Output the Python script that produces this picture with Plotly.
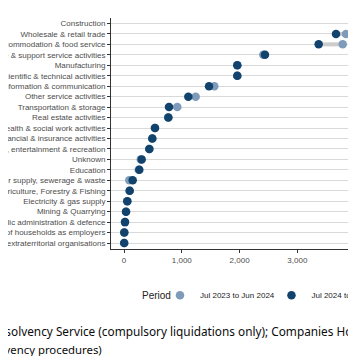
import plotly.graph_objects as go

categories = [
    "Construction",
    "Wholesale & retail trade",
    "Accommodation & food service",
    "Administrative & support service activities",
    "Manufacturing",
    "Professional, scientific & technical activities",
    "Information & communication",
    "Other service activities",
    "Transportation & storage",
    "Real estate activities",
    "Human health & social work activities",
    "Financial & insurance activities",
    "Arts, entertainment & recreation",
    "Unknown",
    "Education",
    "Water supply, sewerage & waste",
    "Agriculture, Forestry & Fishing",
    "Electricity & gas supply",
    "Mining & Quarrying",
    "Public administration & defence",
    "Activities of households as employers",
    "Activities of extraterritorial organisations",
]
period_prev = "Jul 2023 to Jun 2024"
period_curr = "Jul 2024 to Jun 2025"
values_prev = [4100, 3841, 3784, 2410, 1960, 1960, 1563, 1240, 922, 767, 536, 490,
               438, 290, 255, 92, 98, 57, 35, 17, 5, 3]
values_curr = [3984, 3668, 3368, 2439, 1960, 1960, 1471, 1113, 779, 767, 536, 490,
               438, 306, 265, 150, 98, 57, 35, 17, 5, 3]
x_ticks = [0, 1000, 2000, 3000, 4000]

seg_x, seg_y = [], []
for c, a, b in zip(categories, values_prev, values_curr):
    seg_x += [a, b, None]
    seg_y += [c, c, None]

fig = go.Figure()
fig.add_trace(go.Scatter(x=seg_x, y=seg_y, mode="lines",
                         line=dict(color="#cccccc", width=4),
                         showlegend=False, hoverinfo="skip"))
fig.add_trace(go.Scatter(x=values_prev, y=categories, mode="markers",
                         name=period_prev, legend="legend",
                         marker=dict(color="#7f9bba", size=8.5)))
fig.add_trace(go.Scatter(x=values_curr, y=categories, mode="markers",
                         name=period_curr, legend="legend2",
                         marker=dict(color="#12436d", size=8.5)))

legend_style = dict(orientation="h", xanchor="left", y=-0.2, yanchor="middle",
                    font=dict(size=8, color="#222222"),
                    bgcolor="rgba(0,0,0,0)")

fig.update_layout(
    width=348, height=348,
    margin=dict(l=103, r=0, t=10, b=106.7, autoexpand=False),
    paper_bgcolor="white", plot_bgcolor="white",
    font=dict(family="Liberation Sans, Arial, sans-serif", color="#4d4d4d", size=8),
    showlegend=True,
    legend=dict(x=0.2, **legend_style),
    legend2=dict(x=0.655, **legend_style),
    xaxis=dict(range=[-225, 4014], tickvals=x_ticks, tickformat=",",
               ticks="outside", ticklen=3, tickcolor="#333333",
               showline=True, linecolor="#333333", linewidth=1,
               showgrid=False, zeroline=False, automargin=False,
               tickfont=dict(size=8, color="#4d4d4d")),
    yaxis=dict(type="category", categoryorder="array", categoryarray=categories,
               range=[21.57, -0.52],
               ticks="outside", ticklen=3, tickcolor="#333333",
               showline=True, linecolor="#333333", linewidth=1,
               showgrid=True, gridcolor="#d9d9d9", gridwidth=1,
               zeroline=False, automargin=False,
               tickfont=dict(size=8, color="#4d4d4d")),
)

fig.add_annotation(text="Period", xref="paper", yref="paper", x=0.118, y=-0.202,
                   xanchor="left", yanchor="middle", showarrow=False,
                   font=dict(size=10, color="#222222"))
fig.add_annotation(text="Source: Insolvency Service (compulsory liquidations only); Companies House",
                   xref="paper", yref="paper", x=-0.666, y=-0.356,
                   xanchor="left", yanchor="middle", showarrow=False,
                   font=dict(family="Noto Sans, sans-serif", size=11.8, color="#0b0c0c"))
fig.add_annotation(text="(other insolvency procedures)",
                   xref="paper", yref="paper", x=-0.688, y=-0.435,
                   xanchor="left", yanchor="middle", showarrow=False,
                   font=dict(family="Noto Sans, sans-serif", size=11.35, color="#0b0c0c"))

fig.write_html("out.html")
